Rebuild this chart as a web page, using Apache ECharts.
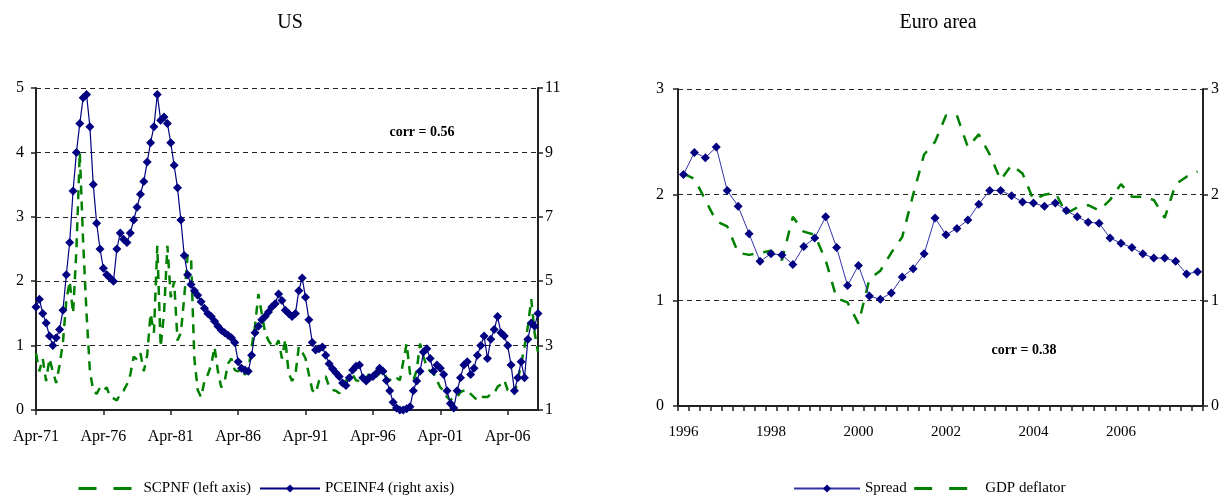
<!DOCTYPE html>
<html><head><meta charset="utf-8">
<script src="https://cdn.jsdelivr.net/npm/echarts@6/dist/echarts.min.js"></script>
<style>html,body{margin:0;padding:0;background:#fff}#c{width:1225px;height:496px}</style>
</head><body><div id="c"></div>
<script>
// ---------- US (quarterly, Apr-71 .. Jul-08) ----------
const usTickLabels = ['Apr-71','Apr-76','Apr-81','Apr-86','Apr-91','Apr-96','Apr-01','Apr-06'];
const qMonths = ['Jan','Apr','Jul','Oct'];
const usCategories = [];
for (let i = 0; i < 150; i++) {
  const k = i + 1;
  usCategories.push(qMonths[k % 4] + '-' + String((71 + Math.floor(k / 4)) % 100).padStart(2, '0'));
}
// SCPNF, left axis
const usSCPNF = [
  0.88,0.6,0.8,0.45,0.8,0.6,0.42,0.7,1.05,1.7,
  2.0,1.5,2.5,4.0,2.6,1.5,0.6,0.3,0.25,0.35,
  0.3,0.35,0.2,0.18,0.15,0.25,0.3,0.4,0.55,0.83,
  0.78,0.88,0.6,0.85,1.5,1.2,2.55,0.98,1.5,2.55,
  1.75,2.0,1.08,1.2,1.75,2.4,2.4,0.8,0.31,0.2,
  0.45,0.55,0.7,0.98,0.6,0.35,0.45,0.72,0.8,0.62,
  0.6,0.65,0.55,0.6,0.98,1.3,1.8,1.5,1.2,1.08,
  1.0,0.98,1.08,0.8,1.1,0.57,0.45,0.55,0.98,0.9,
  0.8,0.55,0.31,0.26,0.45,0.5,0.52,0.36,0.31,0.3,
  0.26,0.35,0.46,0.5,0.55,0.46,0.45,0.41,0.5,0.57,
  0.55,0.52,0.57,0.62,0.5,0.46,0.52,0.5,0.46,0.75,
  1.03,0.57,0.46,0.62,1.03,0.83,0.67,0.6,0.57,0.46,
  0.35,0.3,0.2,0.15,0.2,0.2,0.28,0.3,0.31,0.25,
  0.2,0.15,0.2,0.2,0.2,0.25,0.26,0.36,0.4,0.46,
  0.31,0.3,0.25,0.46,0.72,0.98,1.3,1.72,1.2,0.9
];
// PCEINF4, right axis
const usPCEINF4 = [
  4.2,4.44,4.0,3.7,3.3,3.0,3.24,3.5,4.1,5.2,
  6.2,7.8,9.0,9.9,10.7,10.8,9.8,8.0,6.8,6.0,
  5.4,5.2,5.1,5.0,6.0,6.5,6.3,6.2,6.5,6.9,
  7.3,7.7,8.1,8.7,9.3,9.8,10.8,10.0,10.1,9.9,
  9.3,8.6,7.9,6.9,5.8,5.2,4.9,4.7,4.56,4.36,
  4.16,4.0,3.9,3.76,3.6,3.48,3.4,3.32,3.24,3.1,
  2.5,2.3,2.24,2.2,2.7,3.4,3.6,3.8,3.9,4.04,
  4.2,4.3,4.6,4.4,4.1,4.0,3.9,4.0,4.7,5.1,
  4.5,3.8,3.1,2.86,2.9,2.96,2.7,2.44,2.28,2.16,
  2.04,1.84,1.76,2.0,2.24,2.36,2.4,2.0,1.9,2.0,
  2.04,2.14,2.3,2.2,1.92,1.6,1.24,1.06,1.0,1.0,
  1.04,1.1,1.6,1.9,2.2,2.8,2.9,2.6,2.2,2.4,
  2.3,2.1,1.6,1.2,1.06,1.6,2.0,2.4,2.5,2.1,
  2.3,2.7,3.0,3.3,2.6,3.2,3.5,3.9,3.4,3.3,
  3.0,2.4,1.6,2.0,2.5,2.0,3.2,3.7,3.6,4.0
];
const usLeftTicks = [0,1,2,3,4,5];
const usRightTicks = [1,3,5,7,9,11];

// ---------- Euro area (quarterly, 1996Q1 .. 2007Q4) ----------
const euCategories = [];
for (let y = 1996; y <= 2007; y++) for (let q = 1; q <= 4; q++) euCategories.push(y + 'Q' + q);
const euTickLabels = ['1996','1998','2000','2002','2004','2006'];
const euSpread = [
  2.19,2.40,2.35,2.45,2.04,1.89,1.63,1.37,1.44,1.43,
  1.34,1.51,1.59,1.79,1.50,1.14,1.33,1.04,1.01,1.07,
  1.22,1.30,1.44,1.78,1.62,1.68,1.76,1.91,2.04,2.04,
  1.99,1.93,1.92,1.89,1.92,1.85,1.79,1.74,1.73,1.59,
  1.54,1.50,1.44,1.40,1.40,1.37,1.25,1.27
];
const euGDPdeflator = [
  2.2,2.15,1.95,1.75,1.7,1.45,1.43,1.45,1.47,1.38,
  1.79,1.65,1.62,1.38,1.02,0.98,0.78,1.2,1.28,1.45,
  1.6,2.0,2.38,2.5,2.75,2.75,2.45,2.57,2.38,2.14,
  2.28,2.2,1.95,2.0,2.02,1.82,1.88,1.9,1.85,1.95,
  2.1,1.98,1.98,1.95,1.78,2.1,2.17,2.22
];
const euAxisTicks = [0,1,2,3];

const FONT = '"Liberation Serif", "DejaVu Serif", serif';
const axisLineStyle = {show: true, lineStyle: {color: '#222', width: 2}};
const gridDash = {show: true, lineStyle: {color: '#222', type: [5, 4], width: 1.2}};
const lbl = {color: '#000', fontFamily: FONT, fontSize: 15};
const legendDash = {color: '#008000', width: 3, type: [18, 17]};

const chart = echarts.init(document.getElementById('c'), null, {renderer: 'canvas'});
chart.setOption({
  animation: false,
  backgroundColor: '#fff',
  grid: [
    {left: 36, right: 687, top: 88, bottom: 86},
    {left: 678, right: 22, top: 89, bottom: 90}
  ],
  xAxis: [
    {type: 'category', gridIndex: 0, data: usCategories, boundaryGap: false,
     axisLine: axisLineStyle,
     axisTick: {show: true, interval: 19, length: 5, lineStyle: {color: '#222', width: 1.5}},
     axisLabel: {...lbl, fontSize: 16, interval: 19, margin: 19,
       formatter: v => usTickLabels.indexOf(v) >= 0 ? v : ''},
     splitLine: {show: false}},
    {type: 'category', gridIndex: 1, data: euCategories, boundaryGap: true,
     axisLine: axisLineStyle,
     axisTick: {show: true, interval: 0, length: 5, lineStyle: {color: '#222', width: 1.5}},
     axisLabel: {...lbl, interval: 7, margin: 19,
       formatter: v => { const y = v.slice(0, 4); return euTickLabels.indexOf(y) >= 0 ? y : ''; }},
     splitLine: {show: false}}
  ],
  yAxis: [
    {type: 'value', gridIndex: 0, position: 'left', min: 0, max: 5, interval: 1,
     axisLine: axisLineStyle,
     axisTick: {show: true, length: 5, lineStyle: {color: '#222', width: 1.5}},
     axisLabel: {...lbl, fontSize: 16, margin: 12, formatter: v => usLeftTicks.indexOf(v) >= 0 ? String(v) : ''},
     splitLine: gridDash},
    {type: 'value', gridIndex: 0, position: 'right', min: 1, max: 11, interval: 1,
     axisLine: axisLineStyle,
     axisTick: {show: true, length: 5, customValues: usRightTicks, lineStyle: {color: '#222', width: 1.5}},
     axisLabel: {...lbl, fontSize: 16, margin: 7, customValues: usRightTicks},
     splitLine: {show: false}},
    {type: 'value', gridIndex: 1, position: 'left', min: 0, max: 3, interval: 1,
     axisLine: axisLineStyle,
     axisTick: {show: true, length: 5, lineStyle: {color: '#222', width: 1.5}},
     axisLabel: {...lbl, fontSize: 16, margin: 14, formatter: v => euAxisTicks.indexOf(v) >= 0 ? String(v) : ''},
     splitLine: gridDash},
    {type: 'value', gridIndex: 1, position: 'right', min: 0, max: 3, interval: 1,
     axisLine: axisLineStyle,
     axisTick: {show: true, length: 5, lineStyle: {color: '#222', width: 1.5}},
     axisLabel: {...lbl, fontSize: 16, margin: 8},
     splitLine: {show: false}}
  ],
  legend: [
    {data: [
       {name: 'SCPNF (left axis)', itemStyle: {opacity: 0}, lineStyle: legendDash},
       {name: 'PCEINF4 (right axis)'}
     ], left: 72, top: 476,
     itemWidth: 60, itemHeight: 10, itemGap: 8,
     textStyle: {fontFamily: FONT, fontSize: 15, color: '#000'}},
    {data: [
       {name: 'Spread'},
       {name: 'GDP deflator', itemStyle: {opacity: 0}, lineStyle: legendDash}
     ], left: 788, top: 476,
     itemWidth: 66, itemHeight: 10, itemGap: 6,
     textStyle: {fontFamily: FONT, fontSize: 15, color: '#000'}}
  ],
  graphic: [
    {type: 'text', x: 290, y: 23, style: {text: 'US', font: '20px ' + FONT, fill: '#000', textAlign: 'center', textVerticalAlign: 'middle', align: 'center', verticalAlign: 'middle'}},
    {type: 'text', x: 938, y: 23, style: {text: 'Euro area', font: '20px ' + FONT, fill: '#000', textAlign: 'center', textVerticalAlign: 'middle', align: 'center', verticalAlign: 'middle'}},
    {type: 'text', x: 422, y: 132, style: {text: 'corr = 0.56', font: 'bold 14px ' + FONT, fill: '#000', textAlign: 'center', textVerticalAlign: 'middle', align: 'center', verticalAlign: 'middle'}},
    {type: 'text', x: 1024, y: 350, style: {text: 'corr = 0.38', font: 'bold 14px ' + FONT, fill: '#000', textAlign: 'center', textVerticalAlign: 'middle', align: 'center', verticalAlign: 'middle'}}
  ],
  series: [
    {name: 'SCPNF (left axis)', type: 'line', xAxisIndex: 0, yAxisIndex: 0, data: usSCPNF,
     symbol: 'none', z: 2,
     lineStyle: {color: '#008000', width: 2.5, type: [9, 7]}, itemStyle: {color: '#008000'}},
    {name: 'PCEINF4 (right axis)', type: 'line', xAxisIndex: 0, yAxisIndex: 1, data: usPCEINF4,
     symbol: 'diamond', symbolSize: 9, showAllSymbol: true, z: 3,
     lineStyle: {color: '#000080', width: 1.2}, itemStyle: {color: '#000080'}},
    {name: 'Spread', type: 'line', xAxisIndex: 1, yAxisIndex: 2, data: euSpread,
     symbol: 'diamond', symbolSize: 9, showAllSymbol: true, z: 3,
     lineStyle: {color: '#3333aa', width: 1}, itemStyle: {color: '#000080'}},
    {name: 'GDP deflator', type: 'line', xAxisIndex: 1, yAxisIndex: 2, data: euGDPdeflator,
     symbol: 'none', z: 2,
     lineStyle: {color: '#008000', width: 2.5, type: [11, 10]}, itemStyle: {color: '#008000'}}
  ]
});
</script></body></html>
